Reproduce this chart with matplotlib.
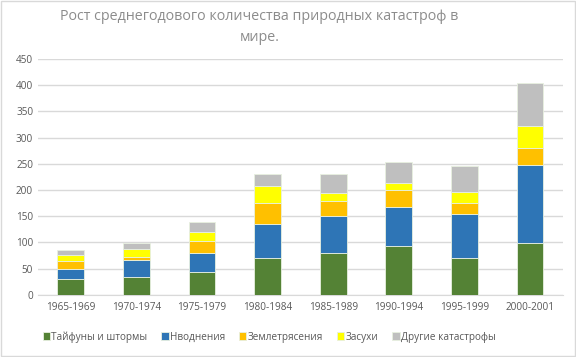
import numpy as np
import matplotlib
matplotlib.use("Agg")
import matplotlib.pyplot as plt
from matplotlib.patches import Rectangle

plt.rcParams['font.family'] = ['Open Sans', 'DejaVu Sans']

periods = ["1965-1969", "1970-1974", "1975-1979", "1980-1984",
           "1985-1989", "1990-1994", "1995-1999", "2000-2001"]
tayfuny = [30, 34, 44, 70, 79, 94, 70, 98]
navodneniya = [19, 32, 36, 65, 72, 74, 84, 150]
zemletryaseniya = [15, 6, 23, 40, 28, 32, 21, 33]
zasukhi = [12, 16, 17, 33, 16, 14, 22, 42]
drugie = [9, 11, 19, 23, 36, 40, 48, 81]

series = [tayfuny, navodneniya, zemletryaseniya, zasukhi, drugie]
names = ["Тайфуны и штормы", "Нводнения", "Землетрясения", "Засухи", "Другие катастрофы"]
colors = ["#548235", "#2E75B6", "#FFC000", "#FFFF00", "#BFBFBF"]

fig = plt.figure(figsize=(5.76, 3.57), dpi=100)
ax = fig.add_axes([0.066, 0.174, 0.911, 0.661])

x = np.arange(len(periods))
bottom = np.zeros(len(periods))
for vals, name, c in zip(series, names, colors):
    ax.bar(x, vals, 0.41, bottom=bottom, color=c, label=name,
           edgecolor="#E8F0E0", linewidth=0.6, zorder=3)
    bottom += np.array(vals)

ax.set_ylim(0, 450)
ax.set_xlim(-0.5, len(periods) - 0.5)
ax.set_yticks(np.arange(0, 451, 50))
ax.set_xticks(x)
ax.set_xticklabels(periods)
ax.tick_params(colors="#595959", labelsize=7.2, length=0)
ax.tick_params(axis="x", pad=5)
ax.grid(axis="y", color="#D9D9D9", linewidth=1, zorder=0)
for s in ["top", "right", "left"]:
    ax.spines[s].set_visible(False)
ax.spines["bottom"].set_color("#D9D9D9")

fig.text(0.45, 0.975, "Рост среднегодового количества природных катастроф в\nмире.",
         ha="center", va="top", fontsize=10.3, color="#8C8C8C", linespacing=1.55)

ax.legend(loc="upper center", bbox_to_anchor=(0.44, -0.115), ncol=5, frameon=False,
          fontsize=7.2, labelcolor="#595959", handlelength=0.75, handleheight=0.75,
          handletextpad=0.1, columnspacing=1.4)

fig.patches.append(Rectangle((0.002, 0.003), 0.996, 0.994, transform=fig.transFigure,
                             fill=False, edgecolor="#D9D9D9", linewidth=1))

fig.savefig("out.png", dpi=100)
